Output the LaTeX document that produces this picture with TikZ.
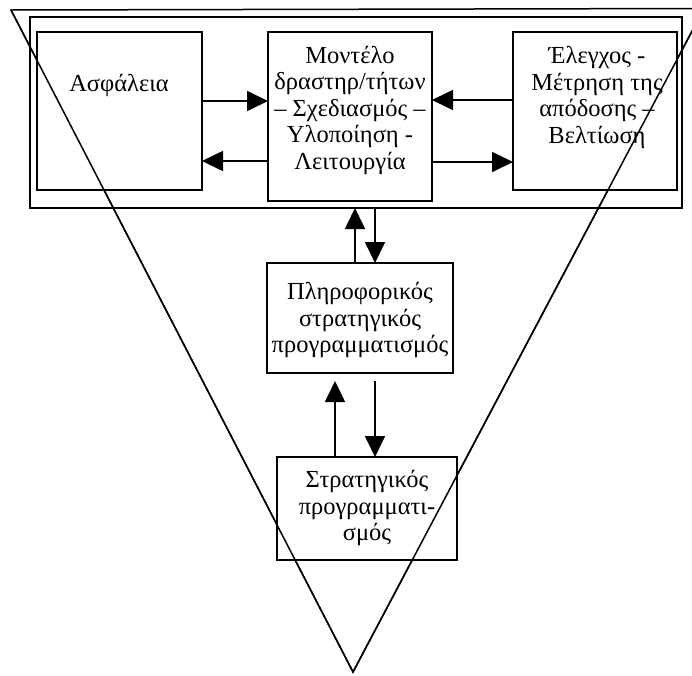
\documentclass[tikz,border=0pt]{standalone}
\usepackage{fontspec}
\setmainfont{Liberation Serif}
\usetikzlibrary{arrows.meta}
\begin{document}
\begin{tikzpicture}[x=1pt,y=-1pt,
  box/.style={draw,line width=1.8pt,inner sep=0pt,outer sep=0pt},
  lbl/.style={align=center,font=\fontsize{24.5}{26.5}\selectfont,inner sep=0pt},
  arr/.style={line width=1.7pt,-{Triangle[length=21pt,width=20pt]}}]
\useasboundingbox (0,0) rectangle (692,675);
% the funnel behind everything
\begin{scope}
  \clip (0,0) rectangle (692,675);
  \draw[line width=1.5pt,line join=miter] (11,10) -- (704,8.5) -- (353,672) -- cycle;
\end{scope}
% frame round the top row
\node[box,minimum width=652pt,minimum height=191pt] (frame) at (356,112.5) {};
% boxes
\node[box,fill=white,minimum width=165pt,minimum height=158pt] (asf) at (119.5,111) {};
\node[box,fill=white,minimum width=164pt,minimum height=169pt] (mod) at (350,116.5) {};
\node[box,fill=white,minimum width=164pt,minimum height=158pt] (ele) at (595,111) {};
\node[box,fill=white,minimum width=186pt,minimum height=110pt] (pli) at (360,318) {};
\node[box,fill=white,minimum width=180pt,minimum height=103pt] (str) at (367,508.5) {};
% the funnel edges run across the boxes
\begin{scope}
  \clip (0,0) rectangle (692,675);
  \draw[line width=1.5pt] (11,10) -- (353,672) -- (704,8.5);
\end{scope}
% texts
\node[lbl] (tasf) at (119,85) {Ασφάλεια};
\node[lbl] (tmod) at (350,110) {Μοντέλο\\δραστηρ/τήτων\\– Σχεδιασμός –\\Υλοποίηση -\\Λειτουργία};
\node[lbl] (tele) at (597,97.5) {Έλεγχος -\\Μέτρηση της\\απόδοσης –\\Βελτίωση};
\node[lbl] (tpli) at (360,320) {Πληροφορικός\\στρατηγικός\\προγραμματισμός};
\node[lbl] (tstr) at (367,508) {Στρατηγικός\\προγραμματι-\\σμός};
% connectors
\draw[arr] (asf.east |- 0,101) -- (mod.west |- 0,101);
\draw[arr] (mod.west |- 0,161) -- (asf.east |- 0,161);
\draw[arr] (ele.west |- 0,100) -- (mod.east |- 0,100);
\draw[arr] (mod.east |- 0,162) -- (ele.west |- 0,162);
\draw[arr] (pli.north -| 355,0) -- (frame.south -| 355,0);
\draw[arr] (frame.south -| 375,0) -- (pli.north -| 375,0);
\coordinate (gapL) at (335,381);
\coordinate (gapR) at (375,381);
\draw[arr] (str.north -| gapL) -- (gapL);
\draw[arr] (gapR) -- (str.north -| gapR);
\end{tikzpicture}
\end{document}
